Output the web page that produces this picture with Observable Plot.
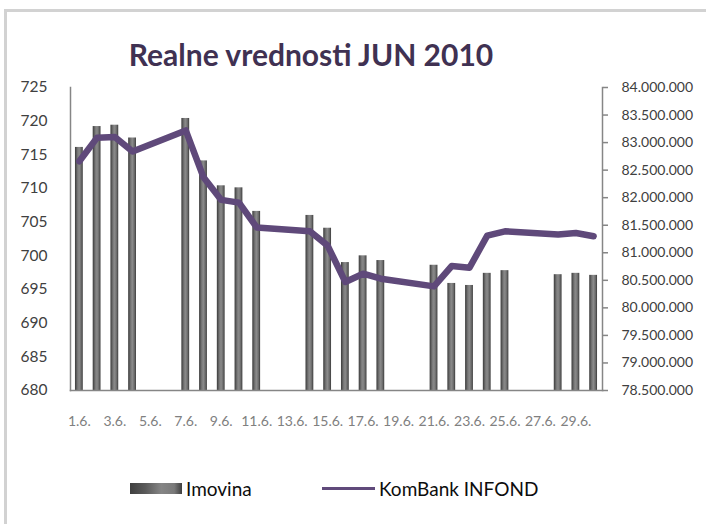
<!DOCTYPE html>
<html>
<head>
<meta charset="utf-8">
<script src="https://cdn.jsdelivr.net/npm/d3@7"></script>
<script src="https://cdn.jsdelivr.net/npm/@observablehq/plot@0.6"></script>
<style>
  body { margin: 0; background: #fff; }
  #wrap { position: relative; width: 706px; height: 524px; overflow: hidden; font-family: Lato, "Open Sans", sans-serif; background: #fff; }
  #frame { position: absolute; left: 4px; top: 9px; width: 900px; height: 700px; border-left: 3px solid #d2d2d2; border-top: 3px solid #d2d2d2; }
  #title { position: absolute; left: 0; width: 622px; top: 36px; text-align: center; font-weight: bold; font-size: 30px; color: #403152; white-space: nowrap; }
  #chart { position: absolute; left: 0; top: 70px; }
  .leg { position: absolute; font-size: 19px; color: #0d0d0d; white-space: nowrap; }
  .sw-bar { position: absolute; left: 130px; top: 483px; width: 52px; height: 11px; background: linear-gradient(90deg, #3f3f3f 0%, #5a5a5a 30%, #858585 60%, #7a7a7a 85%, #3f3f3f 100%); }
  .sw-line { position: absolute; left: 322px; top: 487px; width: 53px; height: 3px; background: #604a7b; }
</style>
</head>
<body>
<div id="wrap">
  <div id="frame"></div>
  <div id="title">Realne vrednosti JUN 2010</div>
  <div id="chart"></div>
  <div class="sw-bar"></div>
  <div class="leg" style="left:186px; top:477px;">Imovina</div>
  <div class="sw-line"></div>
  <div class="leg" style="left:379px; top:477px;">KomBank INFOND</div>
</div>
<script>
// Categories: all days of June 2010
const days = ["1.6.","2.6.","3.6.","4.6.","5.6.","6.6.","7.6.","8.6.","9.6.","10.6.",
              "11.6.","12.6.","13.6.","14.6.","15.6.","16.6.","17.6.","18.6.","19.6.","20.6.",
              "21.6.","22.6.","23.6.","24.6.","25.6.","26.6.","27.6.","28.6.","29.6.","30.6."];
// Trading days with data
const tradeDays = ["1.6.","2.6.","3.6.","4.6.","7.6.","8.6.","9.6.","10.6.","11.6.",
                   "14.6.","15.6.","16.6.","17.6.","18.6.","21.6.","22.6.","23.6.","24.6.","25.6.",
                   "28.6.","29.6.","30.6."];
// Imovina (left axis)
const imovina = [716.1, 719.2, 719.4, 717.5, 720.4, 714.1, 710.4, 710.1, 706.6,
                 706.0, 704.1, 699.0, 700.0, 699.3, 698.6, 695.9, 695.6, 697.4, 697.8,
                 697.2, 697.4, 697.1];
// KomBank INFOND (right axis)
const infond = [82660000, 83090000, 83100000, 82840000, 83220000, 82370000, 81960000, 81910000, 81460000,
                81390000, 81130000, 80470000, 80620000, 80530000, 80390000, 80760000, 80730000, 81310000, 81390000,
                81330000, 81360000, 81300000];
// Axis tick labels
const xTickLabels = ["1.6.","3.6.","5.6.","7.6.","9.6.","11.6.","13.6.","15.6.","17.6.","19.6.","21.6.","23.6.","25.6.","27.6.","29.6."];
const leftTicks = [680, 685, 690, 695, 700, 705, 710, 715, 720, 725];
const rightTicks = [78500000, 79000000, 79500000, 80000000, 80500000, 81000000, 81500000,
                    82000000, 82500000, 83000000, 83500000, 84000000];
const leftDomain = [680, 725];
const rightDomain = [78500000, 84000000];

const barData = tradeDays.map((d, i) => ({day: d, v: imovina[i]}));
const lineData = tradeDays.map((d, i) => ({day: d, v: infond[i]}));
const toLeft = d3.scaleLinear(rightDomain, leftDomain);
const fmtDots = v => d3.format(",")(v).replace(/,/g, ".");

const chart = Plot.plot({
  width: 706,
  height: 380,
  marginTop: 17,
  marginBottom: 60,
  marginLeft: 70,
  marginRight: 104,
  style: { fontFamily: "Lato, 'Open Sans', sans-serif", fontSize: "15px", color: "#404040", background: "transparent", overflow: "visible" },
  x: { domain: days, paddingInner: 0.56, paddingOuter: 0.28, round: false, axis: null },
  y: { domain: leftDomain, axis: null },
  marks: [
    Plot.barY(barData, { x: "day", y1: leftDomain[0], y2: "v", fill: "url(#barGrad)" }),
    Plot.line(lineData, { x: "day", y: d => toLeft(d.v), stroke: "#5f497a", strokeWidth: 6.5, strokeLinejoin: "round", strokeLinecap: "round" }),
    Plot.frame({ anchor: "left", stroke: "#868686", strokeWidth: 1.5 }),
    Plot.frame({ anchor: "right", stroke: "#868686", strokeWidth: 1.5 }),
    Plot.frame({ anchor: "bottom", stroke: "#868686", strokeWidth: 1.5 }),
    Plot.axisY({ anchor: "left", ticks: leftTicks, tickSize: 0, tickPadding: 23, fontSize: 15.5, fill: "#404040", label: null }),
    Plot.axisY({ anchor: "right", ticks: rightTicks.map(toLeft), tickFormat: d => fmtDots(Math.round(toLeft.invert(d))), tickSize: 5, tickPadding: 14, stroke: "#868686", strokeWidth: 1.5, fontSize: 14, fill: "#404040", label: null }),
    Plot.axisX({ ticks: xTickLabels, tickSize: 0, tickPadding: 26, fontSize: 14, fill: "#808080", label: null })
  ]
});

// gradient definition for the bar fill
const svgSel = d3.select(chart);
const defs = svgSel.insert("defs", ":first-child");
const grad = defs.append("linearGradient").attr("id", "barGrad").attr("x1", "0").attr("x2", "1").attr("y1", "0").attr("y2", "0");
[["0%", "#3a3a3a"], ["35%", "#7a7a7a"], ["55%", "#8a8a8a"], ["80%", "#6a6a6a"], ["100%", "#3a3a3a"]]
  .forEach(([o, c]) => grad.append("stop").attr("offset", o).attr("stop-color", c));

document.getElementById("chart").appendChild(chart);
</script>
</body>
</html>
